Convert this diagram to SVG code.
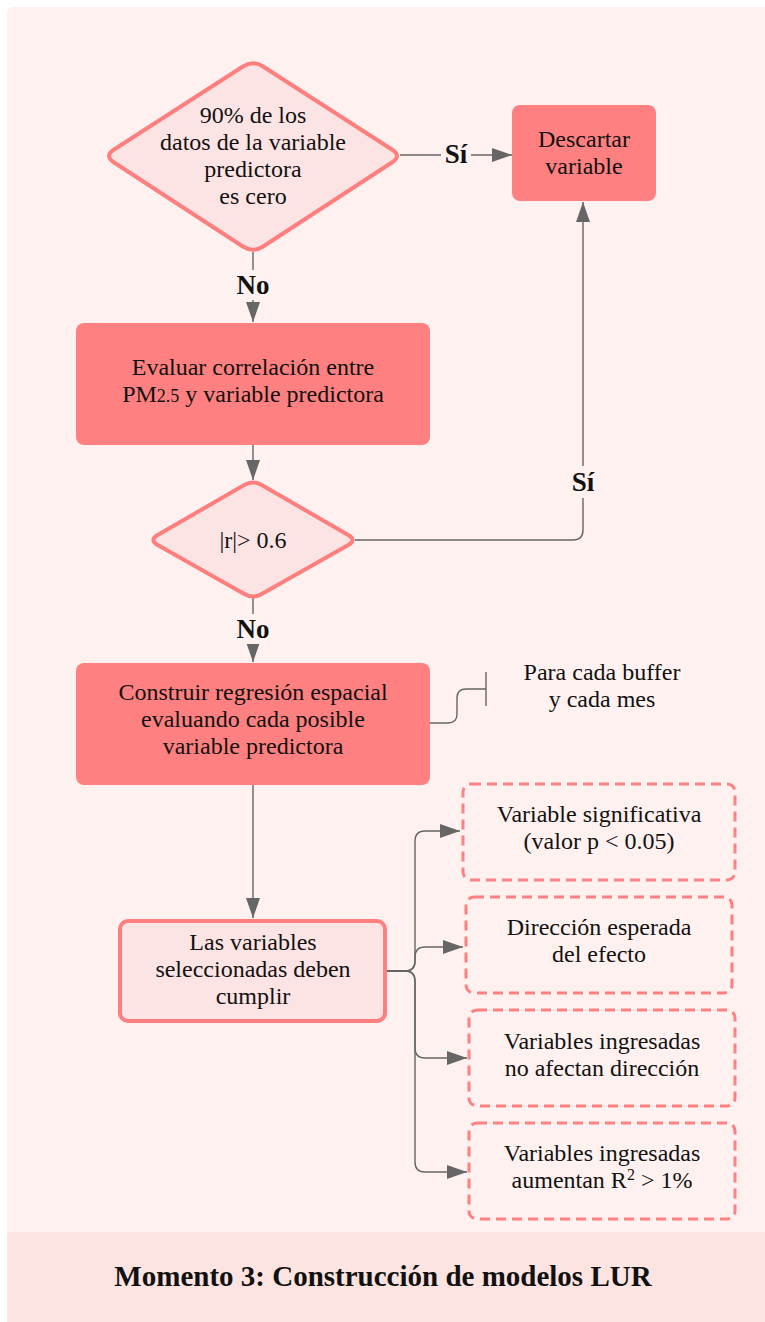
<svg xmlns="http://www.w3.org/2000/svg" width="765" height="1322" viewBox="0 0 765 1322">
  <defs>
    <marker id="arrow" viewBox="0 0 20 14" refX="20" refY="7" markerWidth="20" markerHeight="14" markerUnits="userSpaceOnUse" orient="auto">
      <path d="M0,0 L20,7 L0,14 z" fill="#666"/>
    </marker>
    <style>
      text { font-family: "Liberation Serif", "DejaVu Serif", serif; fill: #111; text-anchor: middle; }
      .t { font-size: 24px; }
      .lbl { font-size: 27px; font-weight: bold; }
      .solid { fill: #ff8080; }
      .soft { fill: #fde4e4; stroke: #ff7f7f; stroke-width: 4; stroke-linejoin: round; }
      .dash { fill: none; stroke: #ff8080; stroke-width: 3; stroke-dasharray: 10 6; }
      .edge { fill: none; stroke: #666; stroke-width: 1.4; }
      .edge-a { fill: none; stroke: #666; stroke-width: 1.4; marker-end: url(#arrow); }
    </style>
  </defs>

  <!-- page background -->
  <rect x="0" y="0" width="765" height="1322" fill="#ffffff"/>
  <rect x="7" y="7" width="770" height="1330" rx="6" fill="#fff1f0"/>
  <rect x="7" y="1232" width="770" height="100" rx="4" fill="#fde4e0"/>

  <!-- connectors -->
  <g id="connectors">
    <path class="edge-a" d="M400,155 H512"/>
    <path class="edge-a" d="M253,252 V322"/>
    <path class="edge-a" d="M253,445 V480"/>
    <path class="edge-a" d="M355,540 H573 Q583,540 583,530 V202"/>
    <path class="edge-a" d="M253,598 V662"/>
    <path class="edge-a" d="M253,785 V918"/>
    <path class="edge" d="M430,723 H448 Q457,723 457,714 V698 Q457,689 466,689 H486 M486,672 V706"/>
    <path class="edge-a" d="M386,971 H405 Q415,971 415,961 V841 Q415,831 425,831 H460"/>
    <path class="edge-a" d="M386,971 H405 Q415,971 415,961 V957 Q415,947 425,947 H463"/>
    <path class="edge-a" d="M386,971 H405 Q415,971 415,981 V1048 Q415,1058 425,1058 H467"/>
    <path class="edge-a" d="M386,971 H405 Q415,971 415,981 V1162 Q415,1172 425,1172 H467"/>
    <!-- edge labels on a backing so the line breaks around them -->
    <rect x="441" y="141" width="30" height="28" fill="#fff1f0"/>
    <text class="lbl" x="456" y="163">Sí</text>
    <rect x="567" y="466" width="32" height="32" fill="#fff1f0"/>
    <text class="lbl" x="583" y="491">Sí</text>
    <rect x="232" y="270" width="42" height="30" fill="#fff1f0"/>
    <text class="lbl" x="253" y="294">No</text>
    <rect x="232" y="614" width="42" height="30" fill="#fff1f0"/>
    <text class="lbl" x="253" y="638">No</text>
  </g>

  <g id="decision-zero">
    <path class="soft" d="M242.9,66.5 Q253,60 263.1,66.5 L391.9,149.5 Q402,156 391.9,162.5 L263.1,246.5 Q253,253 242.9,246.5 L114.1,162.5 Q104,156 114.1,149.5 Z"/>
    <text class="t" x="253" y="123">90% de los</text>
    <text class="t" x="253" y="150">datos de la variable</text>
    <text class="t" x="253" y="177">predictora</text>
    <text class="t" x="253" y="204">es cero</text>
  </g>

  <g id="descartar">
    <rect class="solid" x="512" y="105" width="144" height="96" rx="8"/>
    <text class="t" x="584" y="147">Descartar</text>
    <text class="t" x="584" y="174">variable</text>
  </g>

  <g id="evaluar">
    <rect class="solid" x="76" y="323" width="354" height="122" rx="8"/>
    <text class="t" x="253" y="375">Evaluar correlación entre</text>
    <text class="t" x="253" y="402">PM<tspan font-size="18">2.5</tspan> y variable predictora</text>
  </g>

  <g id="decision-r">
    <path class="soft" d="M244.3,485 Q253,480 261.7,485 L348.3,535 Q357,540 348.3,545 L261.7,594 Q253,599 244.3,594 L157.7,545 Q149,540 157.7,535 Z"/>
    <text class="t" x="253" y="548">|r|&gt; 0.6</text>
  </g>

  <g id="construir">
    <rect class="solid" x="76" y="663" width="354" height="122" rx="8"/>
    <text class="t" x="253" y="700">Construir regresión espacial</text>
    <text class="t" x="253" y="727">evaluando cada posible</text>
    <text class="t" x="253" y="754">variable predictora</text>
  </g>

  <g id="nota-buffer">
    <text class="t" x="602" y="680">Para cada buffer</text>
    <text class="t" x="602" y="707">y cada mes</text>
  </g>

  <g id="seleccion">
    <rect class="soft" x="120" y="921" width="265" height="100" rx="8"/>
    <text class="t" x="253" y="950">Las variables</text>
    <text class="t" x="253" y="977">seleccionadas deben</text>
    <text class="t" x="253" y="1004">cumplir</text>
  </g>

  <g id="criterio-1">
    <rect class="dash" x="463" y="784" width="272" height="96" rx="8"/>
    <text class="t" x="599" y="822">Variable significativa</text>
    <text class="t" x="599" y="849">(valor p &lt; 0.05)</text>
  </g>

  <g id="criterio-2">
    <rect class="dash" x="466" y="897" width="266" height="96" rx="8"/>
    <text class="t" x="599" y="935">Dirección esperada</text>
    <text class="t" x="599" y="962">del efecto</text>
  </g>

  <g id="criterio-3">
    <rect class="dash" x="469" y="1010" width="266" height="96" rx="8"/>
    <text class="t" x="602" y="1049">Variables ingresadas</text>
    <text class="t" x="602" y="1076">no afectan dirección</text>
  </g>

  <g id="criterio-4">
    <rect class="dash" x="469" y="1123" width="266" height="96" rx="8"/>
    <text class="t" x="602" y="1161">Variables ingresadas</text>
    <text class="t" x="602" y="1188">aumentan R<tspan font-size="16" dy="-8">2</tspan><tspan dy="8"> &gt; 1%</tspan></text>
  </g>

  <g id="titulo">
    <text x="383" y="1286" font-size="29" font-weight="bold">Momento 3: Construcción de modelos LUR</text>
  </g>
</svg>
